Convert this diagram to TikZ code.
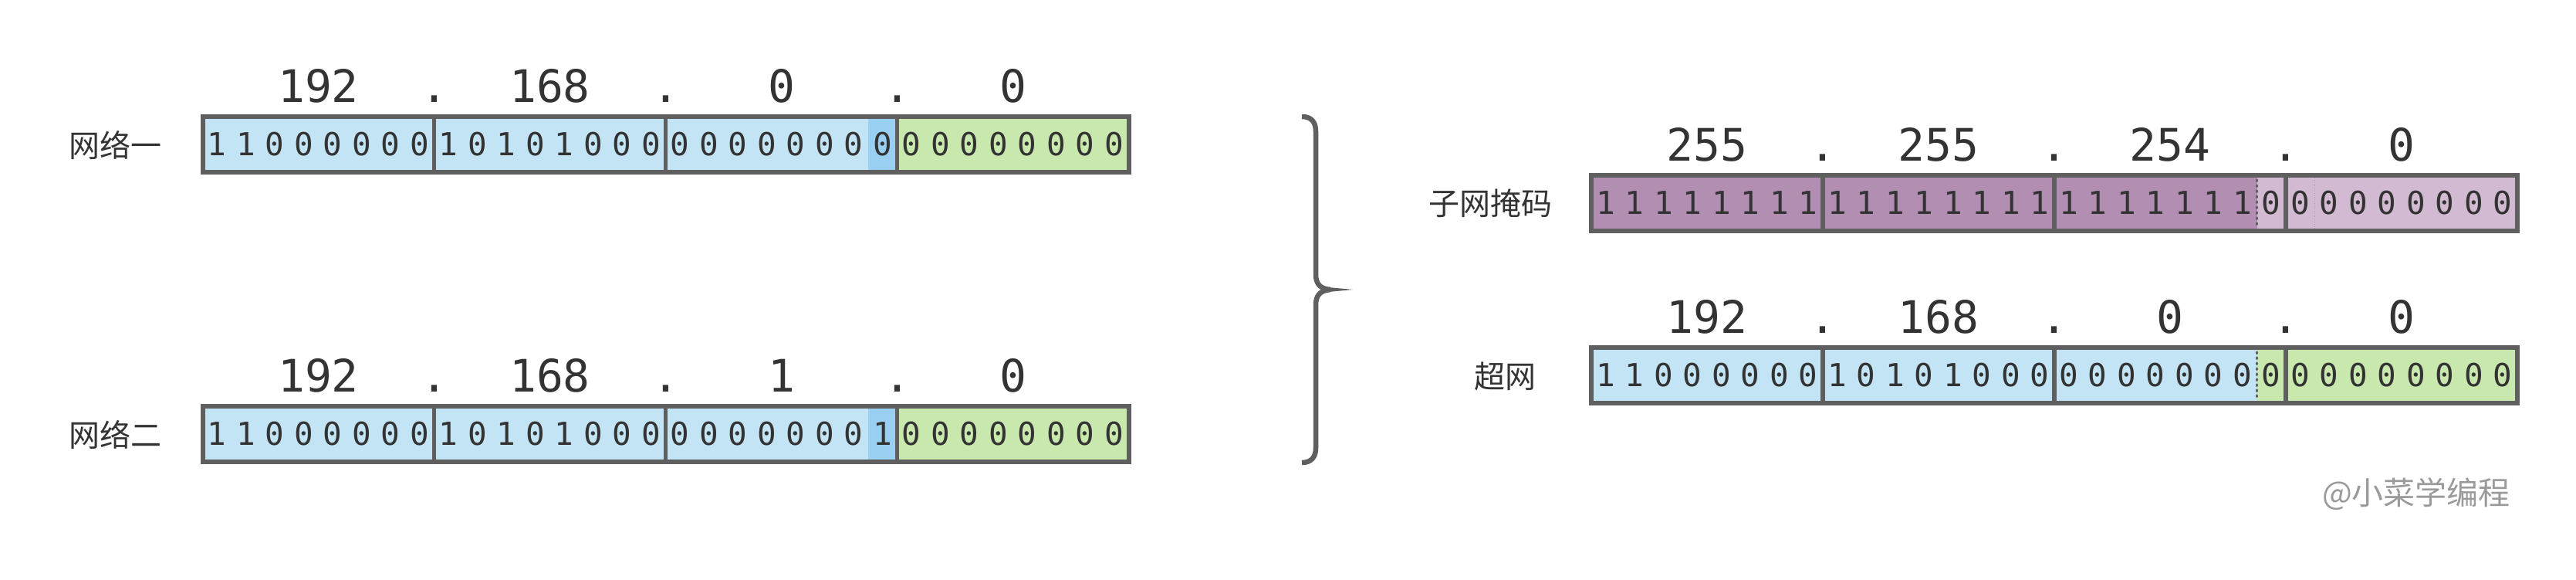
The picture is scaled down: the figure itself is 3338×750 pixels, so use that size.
\documentclass[tikz,border=0pt]{standalone}
\usepackage{fontspec}
\newfontfamily\monofont{DejaVu Sans Mono}
\newfontfamily\cjkfont{Noto Sans CJK SC}
\definecolor{lblue}{HTML}{C3E4F5}
\definecolor{dblue}{HTML}{99CFF0}
\definecolor{lgreen}{HTML}{C8E8AE}
\definecolor{dpurple}{HTML}{B38EB3}
\definecolor{lpurple}{HTML}{D3BAD3}
\definecolor{edge}{HTML}{5F5F5F}
\definecolor{txt}{HTML}{333333}
\definecolor{wm}{HTML}{9A9A9A}
\tikzset{
  bit/.style={font=\monofont\fontsize{41}{41}\selectfont, text=txt, inner sep=0pt, anchor=center},
  lbl/.style={font=\monofont\fontsize{58}{58}\selectfont, text=txt, inner sep=0pt, anchor=base},
  rowname/.style={font=\cjkfont\fontsize{40}{40}\selectfont, text=txt, inner sep=0pt, anchor=center},
  frame/.style={draw=edge, line width=6pt},
  sep/.style={draw=edge, line width=5.5pt},
  dotsep/.style={draw=edge, line width=3.5pt, line cap=round, dash pattern=on 1.5pt off 5.5pt},
  bracestroke/.style={draw=edge, line width=6.5pt},
}
\newcommand{\mybits}[4]{%
  \foreach \b [count=\i from 0] in {#4} {
    \node[bit] (#1\i) at ({#2+(\i+0.5)*37.5},#3) {\b};
  }
}
\newcommand{\mylabels}[7]{%
  \node[lbl] (#1a) at ({#2+150},#3) {#4};
  \node[lbl] (#1p) at ({#2+300},#3) {.};
  \node[lbl] (#1b) at ({#2+450},#3) {#5};
  \node[lbl] (#1q) at ({#2+600},#3) {.};
  \node[lbl] (#1c) at ({#2+750},#3) {#6};
  \node[lbl] (#1r) at ({#2+900},#3) {.};
  \node[lbl] (#1d) at ({#2+1050},#3) {#7};
}
\newcommand{\myframe}[2]{%
  \draw[frame] (#1,#2-36) rectangle (#1+1200,#2+36);
  \draw[sep] (#1+300,#2-36) -- (#1+300,#2+36);
  \draw[sep] (#1+600,#2-36) -- (#1+600,#2+36);
  \draw[sep] (#1+900,#2-36) -- (#1+900,#2+36);
}
\begin{document}
\begin{tikzpicture}[x=1pt,y=-1pt]
\useasboundingbox (0,0) rectangle (3338,750);

% ---------- network 1 ----------
\fill[lblue] (262.5,151) rectangle (1125,223);
\fill[dblue] (1125,151) rectangle (1162.5,223);
\fill[lgreen] (1162.5,151) rectangle (1462.5,223);
\mybits{na}{262.5}{187}{1,1,0,0,0,0,0,0,1,0,1,0,1,0,0,0,0,0,0,0,0,0,0,0,0,0,0,0,0,0,0,0}
\myframe{262.5}{187}
\mylabels{la}{262.5}{132.5}{192}{168}{0}{0}
\node[rowname] (n1) at (149,188) {网络一};

% ---------- network 2 ----------
\fill[lblue] (262.5,526) rectangle (1125,598);
\fill[dblue] (1125,526) rectangle (1162.5,598);
\fill[lgreen] (1162.5,526) rectangle (1462.5,598);
\mybits{nb}{262.5}{562}{1,1,0,0,0,0,0,0,1,0,1,0,1,0,0,0,0,0,0,0,0,0,0,1,0,0,0,0,0,0,0,0}
\myframe{262.5}{562}
\mylabels{lb}{262.5}{507.5}{192}{168}{1}{0}
\node[rowname] (n2) at (149,563) {网络二};

% ---------- brace ----------
\draw[bracestroke] (1687,151) .. controls (1699,151) and (1705,158) .. (1705,170)
  -- (1705,355) .. controls (1705,367) and (1710,374) .. (1724,375);
\draw[bracestroke] (1687,599) .. controls (1699,599) and (1705,592) .. (1705,580)
  -- (1705,395) .. controls (1705,383) and (1710,376) .. (1724,375);
\fill[edge] (1716,371.5) -- (1753,375) -- (1716,378.5) -- cycle;

% ---------- subnet mask ----------
\fill[dpurple] (2062,227) rectangle (2924.5,299);
\fill[lpurple] (2924.5,227) rectangle (3262,299);
\draw[gray!70, line width=0.8pt, dash pattern=on 1pt off 1.5pt] (2999.5,230) -- (2999.5,296);
\mybits{nm}{2062}{263}{1,1,1,1,1,1,1,1,1,1,1,1,1,1,1,1,1,1,1,1,1,1,1,0,0,0,0,0,0,0,0,0}
\draw[dotsep] (2924.5,233) -- (2924.5,296);
\myframe{2062}{263}
\mylabels{lm}{2062}{208.5}{255}{255}{254}{0}
\node[rowname] (n3) at (1931,263) {子网掩码};

% ---------- supernet ----------
\fill[lblue] (2062,450) rectangle (2924.5,522);
\fill[lgreen] (2924.5,450) rectangle (3262,522);
\mybits{ns}{2062}{486}{1,1,0,0,0,0,0,0,1,0,1,0,1,0,0,0,0,0,0,0,0,0,0,0,0,0,0,0,0,0,0,0}
\draw[dotsep] (2924.5,456) -- (2924.5,519);
\myframe{2062}{486}
\mylabels{ls}{2062}{431.5}{192}{168}{0}{0}
\node[rowname] (n4) at (1950,487) {超网};

% ---------- watermark ----------
\node[font=\cjkfont\fontsize{41}{41}\selectfont, text=wm, inner sep=0pt] (wmk) at (3131,640) {@小菜学编程};
\end{tikzpicture}
\end{document}
